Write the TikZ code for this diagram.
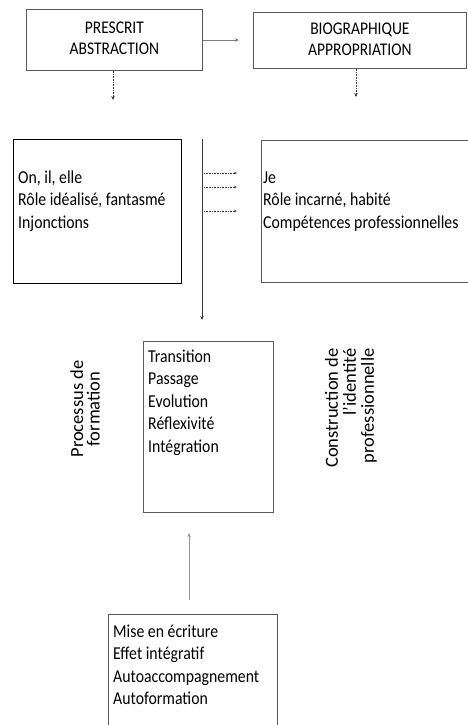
\documentclass[tikz,border=0pt]{standalone}
\usepackage{fontspec}
\usepackage{graphicx}
\setmainfont{Carlito}
\usetikzlibrary{arrows.meta}
\definecolor{boxgray}{HTML}{5A5A5A}
\definecolor{arrgray}{HTML}{7A7A7A}
\definecolor{darkarr}{HTML}{3A3A3A}
\newcommand\bodyfont{\fontsize{15.8}{19.6}\selectfont}
\newcommand\titlefont{\fontsize{15.5}{18.3}\selectfont}
\newcommand\rotfont{\fontsize{18.5}{16.5}\selectfont}
\newcommand\rotfontb{\fontsize{18.5}{18}\selectfont}
\newcommand\tallL[1]{\scalebox{1}[1.15]{\begin{tabular}[t]{@{}l@{}}#1\end{tabular}}}
\newcommand\tallC[1]{\scalebox{1}[1.15]{\begin{tabular}{@{}c@{}}#1\end{tabular}}}
\begin{document}
\begin{tikzpicture}[x=1pt,y=-1pt,
  box/.style={draw=boxgray, line width=0.8pt, inner sep=0pt, anchor=north west},
  openbox/.style={inner sep=0pt, anchor=north west},
  boxline/.style={draw=boxgray, line width=0.8pt},
  title/.style={font=\titlefont, text=black},
  body/.style={font=\bodyfont, anchor=base west, inner sep=0pt},
  rot/.style={rotate=90, inner sep=0pt},
  solidarr/.style={draw=arrgray, line width=0.9pt, -{Stealth[length=4pt,width=3.5pt]}},
  dotarr/.style={draw=darkarr, line width=0.8pt, dash pattern=on 0.8pt off 0.8pt, -{Stealth[length=4pt,width=3.5pt]}},
  fineDot/.style={draw=darkarr, line width=0.5pt, dash pattern=on 0.8pt off 0.8pt, -{Stealth[length=3pt,width=2.5pt]}}
]
\useasboundingbox (0,0) rectangle (467,725);

% top boxes
\node[box, minimum width=176pt, minimum height=61pt, title] (prescrit) at (26,9) {\tallC{PRESCRIT\\ABSTRACTION}};
\node[box, minimum width=213pt, minimum height=56pt, title] (bio) at (253,12) {\tallC{BIOGRAPHIQUE\\APPROPRIATION}};

\coordinate (topEnd) at (239,40);
\draw[solidarr] (prescrit.east |- topEnd) -- (topEnd);

\coordinate (pDown) at (113,100);
\coordinate (bDown) at (356,97);
\draw[dotarr] (prescrit.south -| pDown) -- (pDown);
\draw[dotarr] (bio.south -| bDown) -- (bDown);

% middle boxes
\node[box, draw=black, line width=1.3pt, minimum width=168pt, minimum height=144pt] (left) at (13,139) {};
\node[body] (leftT) at (18,183) {\tallL{On, il, elle\\Rôle idéalisé, fantasmé\\Injonctions}};

\node[openbox, minimum width=210pt, minimum height=142pt] (right) at (261,140) {};
\draw[boxline] (right.north east) -- (right.north west) -- (right.south west) -- (right.south east);
\node[body] (rightT) at (263,183) {\tallL{Je\\Rôle incarné, habité\\Compétences professionnelles}};

\coordinate (vTop) at (202,139);
\coordinate (vBot) at (202,320);
\draw[draw=darkarr, line width=1pt, -{Stealth[length=4pt,width=3.5pt]}] (vTop) -- (vBot);

\coordinate (d1s) at (204,173); \coordinate (d1e) at (237,173);
\coordinate (d2s) at (204,187); \coordinate (d2e) at (237,187);
\coordinate (d3s) at (204,211); \coordinate (d3e) at (237,211);
\draw[fineDot] (d1s) -- (d1e);
\draw[fineDot] (d2s) -- (d2e);
\draw[fineDot] (d3s) -- (d3e);

% central box
\node[box, minimum width=130pt, minimum height=171pt] (mid) at (143,341) {};
\node[body] (midT) at (148,362) {\tallL{Transition\\Passage\\Evolution\\Réflexivité\\Intégration}};

\node[rot, align=center, font=\rotfont] (processus) at (85,409) {Processus de\\formation};
\node[rot, align=right, font=\rotfontb] (construction) at (351,408) {Construction de\\l'identité\\professionnelle};

% bottom
\coordinate (uBot) at (189,600);
\coordinate (uTop) at (189,533);
\draw[solidarr, draw=arrgray!80] (uBot) -- (uTop);

\node[openbox, minimum width=169pt, minimum height=111pt] (bottom) at (108,614) {};
\draw[boxline] (bottom.south west) -- (bottom.north west) -- (bottom.north east) -- (bottom.south east);
\node[body] (bottomT) at (113,637) {\tallL{Mise en écriture\\Effet intégratif\\Autoaccompagnement\\Autoformation}};
\end{tikzpicture}
\end{document}
